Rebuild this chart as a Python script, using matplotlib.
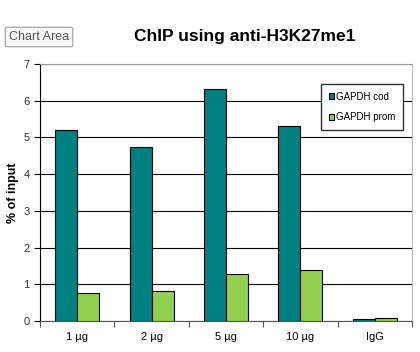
import numpy as np
import matplotlib
matplotlib.use("Agg")
import matplotlib.pyplot as plt

plt.rcParams['font.family'] = ['Liberation Sans', 'DejaVu Sans']

categories = ["1 µg", "2 µg", "5 µg", "10 µg", "IgG"]
gapdh_cod = [5.2, 4.74, 6.32, 5.31, 0.05]
gapdh_prom = [0.77, 0.82, 1.28, 1.4, 0.09]

fig = plt.figure(figsize=(4.2, 3.52), dpi=100)
ax = fig.add_axes([40 / 420, 1 - 321 / 352, 372 / 420, 257 / 352])

x = np.arange(len(categories))
w = 0.295
ax.bar(x - w / 2, gapdh_cod, w, color="#008080", edgecolor="black", linewidth=0.8,
       label="GAPDH cod", zorder=3)
ax.bar(x + w / 2, gapdh_prom, w, color="#92D050", edgecolor="black", linewidth=0.8,
       label="GAPDH prom", zorder=3)

ax.set_xlim(-0.5, len(categories) - 0.5)
ax.set_ylim(0, 7)
ax.set_yticks(range(8))
ax.yaxis.grid(True, color="black", linewidth=0.8, zorder=0)
ax.set_xticks(np.arange(-0.5, len(categories), 1.0), minor=False)
ax.set_xticklabels([])
ax.set_xticks(x, minor=True)
ax.set_xticklabels(categories, minor=True)
ax.tick_params(axis="x", which="minor", length=0, labelsize=8, pad=8)
ax.tick_params(axis="x", which="major", length=4, direction="out", color="#555555")
ax.tick_params(axis="y", length=4, direction="out", labelsize=8, colors="black",
               labelcolor="#333333")

ax.spines["left"].set_color("black")
ax.spines["bottom"].set_color("#555555")
ax.spines["top"].set_color("#999999")
ax.spines["right"].set_color("#bbbbbb")

fig.text(13 / 420, 1 - 193 / 352, "% of input", fontsize=9, fontweight="bold",
         rotation=90, ha="center", va="center")

leg = ax.legend(loc="upper right", bbox_to_anchor=(368 / 372, 1 - 15 / 257),
                fontsize=7, frameon=True, fancybox=False, edgecolor="#333333",
                handlelength=0.5, handleheight=0.5, handletextpad=0.2,
                labelspacing=1.1, borderpad=0.8)
leg.get_frame().set_linewidth(1.0)
leg.get_frame().set_alpha(1)

fig.text(245 / 420, 1 - 37 / 352, "ChIP using anti-H3K27me1", fontsize=12.5,
         fontweight="bold", ha="center", va="center")

fig.text(39 / 420, 1 - 37 / 352, "Chart Area", fontsize=9, color="#555555",
         ha="center", va="center",
         bbox=dict(boxstyle="round,pad=0.3,rounding_size=0.15", facecolor="#f6f6f6",
                   edgecolor="#9a9a9a", linewidth=0.8))

fig.savefig("out.png", dpi=100)
